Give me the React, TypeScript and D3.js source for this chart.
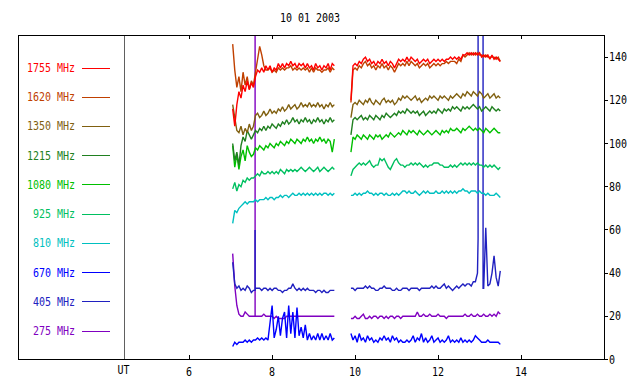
import React from "react";
import * as d3 from "d3";

const W = 640;
const H = 384;

const title = "10 01 2003";
const freqs = ["1755 MHz", "1620 MHz", "1350 MHz", "1215 MHz", "1080 MHz", "925 MHz", "810 MHz", "670 MHz", "405 MHz", "275 MHz"];
const colors = ["#ff0000", "#c04000", "#806010", "#208020", "#00c000", "#00c060", "#00c0c0", "#0000ff", "#2020c0", "#8000c0"];
const hourTicks = [6, 8, 10, 12, 14];
const fluxTicks = [0, 20, 40, 60, 80, 100, 120, 140];

// two observing runs, one sample every 0.05 h (UT)
const step = 0.05;
const run1Start = 7.05;
const run2Start = 9.9;

const f1755a = [116,108,118,124,121,127,124,129,125,128, 126,131,134,133,135,133,136,134,136,133, 135,134,137,135,137,135,137,136,138,136, 137,135,137,136,137,135,137,135,136,134, 137,135,136,134,136,135,137,134,137,136];
const f1755b = [120,136,137,136,138,137,139,140,138,139, 137,138,136,138,137,139,137,138,136,138, 137,135,137,139,138,139,138,140,138,140, 139,138,139,137,138,139,138,139,137,138, 139,138,139,138,139,138,139,139,140,139, 140,139,140,139,141,141,142,141,142,141, 142,141,142,140,141,140,141,139,141,139, 140,139,138];

const f1620a = [146,134,126,131,124,133,127,131,125,129, 127,133,139,145,141,136,134,134,135,133, 134,133,135,134,135,134,135,135,136,134, 135,134,135,134,135,134,135,133,135,133, 135,134,134,133,134,134,135,133,135,134];
const f1620b = [119,134,135,134,136,135,137,138,136,137, 135,136,134,136,135,137,135,136,134,136, 135,133,135,137,136,137,136,138,136,138, 137,136,137,135,136,137,136,137,135,136, 137,136,137,136,137,137,138,137,138,138, 138,137,139,138,141,140,141,142,141,142, 141,142,141,141,140,141,140,140,140,140, 139,140,138];

const f1350a = [118,112,106,105,108,104,107,105,109,106, 108,113,114,112,113,115,113,114,116,114, 115,114,116,115,117,115,116,118,116,117, 118,116,117,119,117,118,117,119,117,118, 117,119,117,118,116,118,117,119,117,118];
const f1350b = [112,118,119,118,120,119,118,120,119,121, 119,118,120,119,118,120,121,119,120,119, 120,118,119,121,120,122,121,122,121,120, 121,122,120,121,119,120,121,120,122,121, 122,121,120,122,121,122,121,120,122,121, 122,123,122,121,123,122,124,123,122,124, 123,122,124,123,121,122,123,121,122,123, 121,122,121];

const f1215a = [100,92,96,90,99,103,101,106,104,102, 104,106,105,107,106,108,106,108,107,109, 108,107,109,108,110,109,111,109,110,112, 110,111,109,111,110,112,110,111,109,111, 110,112,110,111,109,111,110,112,110,111];
const f1215b = [104,111,112,111,112,113,111,112,111,113, 112,111,113,112,111,113,112,114,113,112, 113,114,113,115,114,115,114,116,115,114, 115,114,115,113,114,115,113,114,115,114, 115,114,116,115,114,116,115,116,115,117, 116,117,116,115,117,116,117,116,117,118, 117,116,117,115,116,117,116,115,117,116, 115,116,115];

const f1080a = [99,89,95,88,94,97,92,99,96,94, 95,98,97,99,98,97,99,98,100,99, 98,100,99,101,100,99,101,100,102,101, 100,102,101,100,102,101,103,101,102,100, 102,101,103,101,102,100,102,101,96,102];
const f1080b = [96,103,102,104,103,102,104,103,102,104, 103,102,104,103,104,102,103,104,103,105, 104,103,104,105,104,106,105,104,106,105, 106,105,104,106,105,104,105,106,105,104, 105,106,105,104,106,105,106,105,107,106, 106,107,106,105,107,106,107,108,107,106, 107,106,107,106,105,107,106,105,106,107, 106,105,105];

const f925a = [79,82,78,81,80,83,82,84,83,84, 84,85,86,85,87,86,86,87,86,87, 86,87,86,88,87,86,88,87,88,87, 88,87,88,89,88,87,88,89,88,87, 88,89,87,88,89,88,87,88,89,88];
const f925b = [85,88,89,90,91,90,91,90,91,92, 90,89,90,90,93,92,93,91,89,88, 90,92,93,91,90,90,89,90,90,91, 90,91,90,91,90,89,90,89,90,90, 91,91,91,90,90,89,89,89,90,89, 90,89,90,91,90,91,90,91,90,91, 90,91,90,90,89,90,89,90,89,90, 89,88,89];

const f810a = [63,69,68,70,71,72,73,72,73,73, 73,74,73,74,74,74,75,74,75,75, 74,75,75,76,75,76,76,75,76,77, 76,76,77,76,77,76,77,76,77,76, 77,76,77,76,77,77,76,77,76,77];
const f810b = [76,76,77,76,77,76,77,77,78,77, 77,76,77,76,77,77,76,77,76,76, 77,76,77,76,77,78,78,77,78,77, 77,78,77,76,77,78,77,78,77,77, 77,78,77,77,78,77,78,77,78,77, 78,77,78,78,79,78,78,77,78,78, 78,77,78,77,77,76,77,76,76,76, 77,76,75];

const f670a = [6,8,7,8,8,8,9,8,9,8, 9,9,10,9,10,9,10,9,17,25, 10,14,20,11,19,22,10,25,12,22, 10,24,11,15,10,16,9,12,9,11, 9,12,9,12,9,11,9,12,9,10];
const f670b = [12,9,11,8,12,9,10,8,11,9, 10,8,9,8,10,9,11,9,10,8, 11,9,10,8,9,8,8,9,8,9, 11,8,10,9,12,8,10,8,9,11, 8,9,10,8,9,8,9,11,8,9, 8,9,8,10,8,9,8,9,8,9, 11,10,9,8,8,8,9,8,8,8, 8,8,7];

const f405a = [45,35,33,34,32,33,32,34,33,31, 32,33,33,33,32,33,33,32,33,32, 33,33,32,32,31,32,32,33,33,35, 33,32,33,32,33,32,33,32,32,32, 31,32,32,31,32,31,31,32,32,32];
const f405b = [33,33,32,33,33,33,33,34,33,34, 33,33,32,32,33,33,34,33,33,33, 32,32,33,32,32,33,33,33,32,33, 33,33,33,32,33,33,33,33,33,34, 33,34,33,33,34,35,33,34,33,32, 33,34,33,34,35,34,35,35,34,36, 36,40,400,400,33,61,34,35,40,48, 38,34,41];

const f275a = [49,34,25,21,20,20,22,21,20,20, 20,20,20,20,20,21,20,20,20,20, 19,20,19,19,19,19,20,20,20,20, 20,20,20,20,20,20,20,20,20,20, 20,20,20,20,20,20,20,20,20,20];
const f275b = [19,19,20,19,19,20,21,19,19,20, 19,20,20,19,20,20,19,20,19,20, 20,19,20,20,19,20,20,20,20,20, 20,20,22,20,20,21,20,20,21,20, 20,20,21,20,20,20,19,20,20,20, 20,20,20,20,20,21,20,20,21,20, 20,21,20,20,21,20,20,21,20,21, 20,22,21];

// short bursts between samples: [hour, value]
const ev405: [number, number][] = [[7.59, 32], [7.59, 60], [7.59, 32], [12.965, 56], [12.965, 400], [13.085, 400], [13.085, 33]];
const ev275: [number, number][] = [[7.59, 20], [7.59, 400], [7.59, 20]];

const runsA = [f1755a, f1620a, f1350a, f1215a, f1080a, f925a, f810a, f670a, f405a, f275a];
const runsB = [f1755b, f1620b, f1350b, f1215b, f1080b, f925b, f810b, f670b, f405b, f275b];
const events: [number, number][][] = [[], [], [], [], [], [], [], [], ev405, ev275];

const frame = { left: 18, right: 604, top: 35, bottom: 359 };

const toPoints = (start: number, vals: number[], ev: [number, number][]) => {
  const pts: [number, number][] = vals.map((v, i) => [start + i * step, v]);
  const end = pts[pts.length - 1][0];
  const inside = ev.filter(([t]) => t >= start && t <= end);
  return [...inside, ...pts].sort((a, b) => a[0] - b[0]);
};

const Label = ({ x, y, anchor = "start", color = "#000", children }: any) => (
  <text transform={`translate(${x},${y}) scale(1,1.2)`} textAnchor={anchor} fill={color} fontSize={10}>
    {children}
  </text>
);

export default function App() {
  const x = d3.scaleLinear().domain([4.43, 16]).range([124, frame.right]);
  const y = d3.scaleLinear().domain([0, 150]).range([frame.bottom + 0.5, frame.top + 0.5]);
  const legendY = d3.scaleLinear().domain([0, freqs.length - 1]).range([67.5, 330.5]);
  const line = d3.line<[number, number]>().x(d => x(d[0])).y(d => y(d[1]));
  const order = d3.range(freqs.length).reverse();

  return (
    <svg width={W} height={H} style={{ position: "absolute", left: 0, top: 0, background: "#fff" }}
      fontFamily="'DejaVu Sans Mono', monospace">
      <defs>
        <clipPath id="plot">
          <rect x={frame.left} y={frame.top + 1} width={frame.right - frame.left} height={frame.bottom - frame.top - 1} />
        </clipPath>
      </defs>

      <Label x={310} y={22} anchor="middle">{title}</Label>

      <g clipPath="url(#plot)" fill="none" strokeWidth={1.4} strokeLinejoin="miter" strokeMiterlimit={2}>
        {order.map(i => (
          <g key={freqs[i]} stroke={colors[i]}>
            <path d={line(toPoints(run1Start, runsA[i], events[i])) || ""} />
            <path d={line(toPoints(run2Start, runsB[i], events[i])) || ""} />
          </g>
        ))}
      </g>

      <g shapeRendering="crispEdges">
        <line x1={124.5} x2={124.5} y1={frame.top} y2={frame.bottom} stroke="#606060" />
        <rect x={frame.left + 0.5} y={frame.top + 0.5} width={frame.right - frame.left} height={frame.bottom - frame.top}
          fill="none" stroke="#000" />
        {hourTicks.map(h => {
          const px = Math.round(x(h)) + 0.5;
          return (
            <g key={h}>
              <line x1={px} x2={px} y1={frame.top} y2={frame.top + 4} stroke="#000" />
              <line x1={px} x2={px} y1={frame.bottom - 4} y2={frame.bottom} stroke="#000" />
            </g>
          );
        })}
        {fluxTicks.map(v => {
          const py = Math.round(y(v) - 0.5) + 0.5;
          return <line key={v} x1={frame.right} x2={frame.right + 4} y1={py} y2={py} stroke="#000" />;
        })}
        {freqs.map((f, i) => {
          const py = Math.round(legendY(i)) + 0.5;
          return <line key={f} x1={82} x2={110} y1={py} y2={py} stroke={colors[i]} />;
        })}
      </g>

      {hourTicks.map(h => (
        <Label key={h} x={x(h)} y={376} anchor="middle">{h}</Label>
      ))}
      <Label x={123.5} y={374} anchor="middle">UT</Label>
      {fluxTicks.map(v => (
        <Label key={v} x={609} y={y(v) + 4} >{v}</Label>
      ))}
      {freqs.map((f, i) => (
        <Label key={f} x={75} y={legendY(i) + 4.5} anchor="end" color={colors[i]}>{f}</Label>
      ))}
    </svg>
  );
}
